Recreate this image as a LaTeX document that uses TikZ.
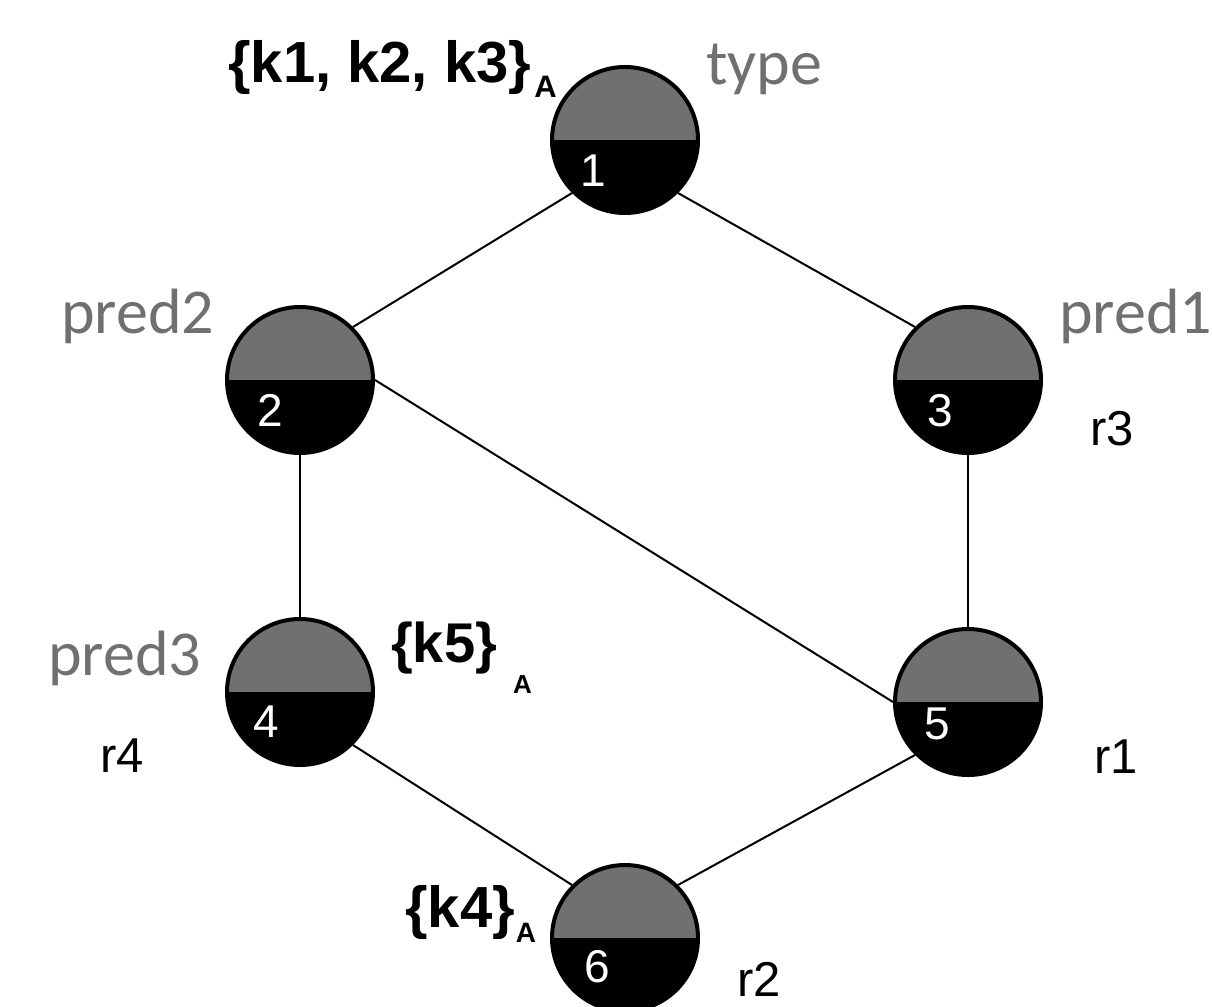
\documentclass[tikz,border=0pt]{standalone}
\usepackage{fontspec}
\setmainfont{Liberation Sans}
\newfontfamily\predfont{Carlito}
\usepackage{tikz}
\usetikzlibrary{calc}
\definecolor{latGray}{HTML}{707070}
\tikzset{
  latnode/.style={circle, minimum size=146pt, draw=black, line width=4pt, fill=black,
    path picture={\fill[latGray] (path picture bounding box.north west) rectangle (path picture bounding box.east);}},
  latnum/.style={text=white, inner sep=0pt, font=\fontsize{46}{46}\selectfont},
  latpred/.style={anchor=base west, inner sep=0pt, text=latGray, font=\predfont\fontsize{64}{64}\selectfont},
  latrule/.style={anchor=base west, inner sep=0pt, font=\fontsize{49}{49}\selectfont},
  latkey/.style={anchor=base west, inner sep=0pt, font=\bfseries},
  latedge/.style={draw=black, line width=2pt}
}
\newcommand{\keyset}[5]{{\fontsize{#1}{#1}\selectfont #2}\hspace{#5pt}\raisebox{-#4pt}{\fontsize{#3}{#3}\selectfont A}}

\begin{document}
\begin{tikzpicture}[x=1pt, y=-1pt]
\useasboundingbox (0,0) rectangle (1212,1006);
\clip (0,0) rectangle (1212,1006);

% lattice nodes
\node[latnode] (n1) at (625,140) {};
\node[latnode] (n2) at (300,380) {};
\node[latnode] (n3) at (968,380) {};
\node[latnode] (n4) at (300,692) {};
\node[latnode] (n5) at (968,702) {};
\node[latnode] (n6) at (625,938) {};

\node[latnum] (d1) at ([shift={(-32,31)}]n1.center) {1};
\node[latnum] (d2) at ([shift={(-30,30)}]n2.center) {2};
\node[latnum] (d3) at ([shift={(-28,31)}]n3.center) {3};
\node[latnum] (d4) at ([shift={(-34,30)}]n4.center) {4};
\node[latnum] (d5) at ([shift={(-31,22)}]n5.center) {5};
\node[latnum] (d6) at ([shift={(-28,29)}]n6.center) {6};

% edges
\draw[latedge] (n1.south west) -- (n2.north east);
\draw[latedge] (n1.south east) -- (n3.north west);
\draw[latedge] (n2.south) -- (n4.north);
\draw[latedge] (n2.east) -- (n5.west);
\draw[latedge] (n3.south) -- (n5.north);
\draw[latedge] (n4.south east) -- (n6.north west);
\draw[latedge] (n5.south west) -- (n6.north east);

% labels
\node[latpred] (ltype) at (706,85) {type};
\node[latpred] (lpred2) at (61,333) {pred2};
\node[latpred] (lpred1) at (1059,333) {pred1};
\node[latpred] (lpred3) at (48,675) {pred3};

\node[latrule] (lr3) at (1090,445) {r3};
\node[latrule] (lr4) at (100,772) {r4};
\node[latrule] (lr1) at (1094,773) {r1};
\node[latrule] (lr2) at (737,996) {r2};

\node[latkey] (k123) at (228,83) {\keyset{58}{\{k1, k2, k3\}}{31}{15}{3}};
\node[latkey] (k5) at (391,662) {\keyset{56}{\{k5\}}{26}{31}{16}};
\node[latkey] (k4) at (405,927) {\keyset{58}{\{k4\}}{28}{15}{1}};
\end{tikzpicture}
\end{document}
